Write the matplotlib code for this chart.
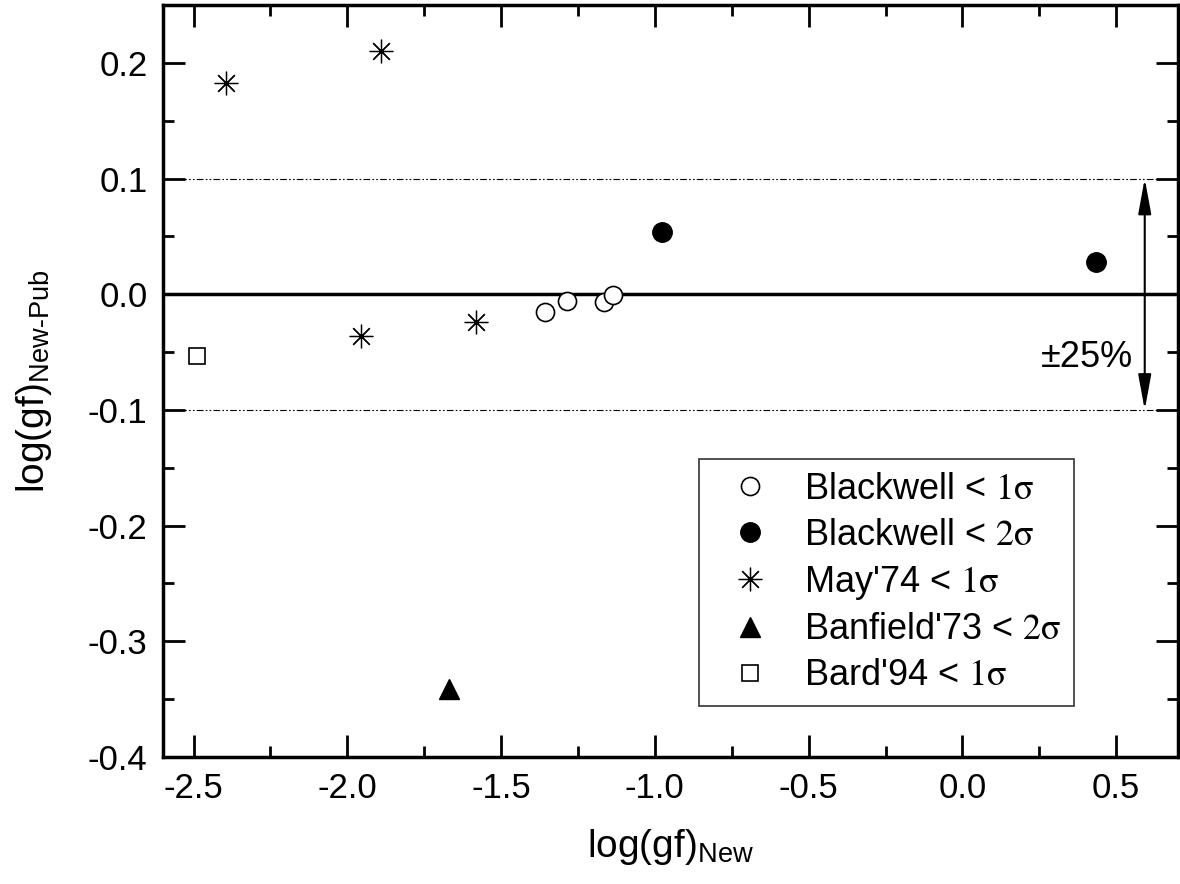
# log(gf) differences: new values vs published ones

import matplotlib
matplotlib.use("Agg")
import matplotlib.pyplot as plt
from matplotlib.ticker import MultipleLocator

plt.rcParams["font.family"] = ["Liberation Sans", "DejaVu Sans"]
plt.rcParams["mathtext.fontset"] = "stix"
plt.rcParams["axes.unicode_minus"] = False

# Blackwell < 1 sigma (open circles)
bw1_x = [-1.357, -1.285, -1.166, -1.136]
bw1_y = [-0.015, -0.006, -0.007, -0.001]
# Blackwell < 2 sigma (filled circles)
bw2_x = [-0.978, 0.434]
bw2_y = [0.054, 0.028]
# May'74 < 1 sigma (asterisks)
may_x = [-2.396, -1.891, -1.955, -1.582]
may_y = [0.183, 0.210, -0.036, -0.024]
# Banfield'73 < 2 sigma (triangle)
ban_x = [-1.671]
ban_y = [-0.341]
# Bard'94 < 1 sigma (square)
bard_x = [-2.489]
bard_y = [-0.053]

fig = plt.figure(figsize=(11.8, 8.84), dpi=100)
ax = fig.add_axes([0.138, 0.1437, 0.860, 0.8506])

ax.axhline(0.0, color="black", lw=2.5, zorder=1)
for yy in (0.1, -0.1):
    ax.axhline(yy, color="black", lw=0.8, dashes=(6, 2, 1.5, 2, 1.5, 2), zorder=1)

ax.plot(bw1_x, bw1_y, "o", ms=13, mfc="white", mec="black", mew=1.2,
        ls="none", label=r"Blackwell < $\mathrm{1\sigma}$", zorder=3)
ax.plot(bw2_x, bw2_y, "o", ms=14, mfc="black", mec="black",
        ls="none", label=r"Blackwell < $\mathrm{2\sigma}$", zorder=3)
ax.plot(may_x, may_y, marker=(8, 2, 0), ms=17, mec="black", mew=0.9,
        ls="none", label=r"May'74 < $\mathrm{1\sigma}$", zorder=3)
ax.plot(ban_x, ban_y, "^", ms=15, mfc="black", mec="black",
        ls="none", label=r"Banfield'73 < $\mathrm{2\sigma}$", zorder=3)
ax.plot(bard_x, bard_y, "s", ms=12, mfc="white", mec="black", mew=1.2,
        ls="none", label=r"Bard'94 < $\mathrm{1\sigma}$", zorder=3)

# +-25% arrow
ax.annotate("", xy=(0.593, 0.1), xytext=(0.593, -0.1),
            arrowprops=dict(arrowstyle="<|-|>,head_length=1.2,head_width=0.22",
                            color="black", lw=1.5, shrinkA=0, shrinkB=0,
                            mutation_scale=18))
ax.text(0.555, -0.055, "±25%", fontsize=26, ha="right", va="center")

ax.set_xlim(-2.6, 0.7)
ax.set_ylim(-0.4, 0.25)
ax.xaxis.set_major_locator(MultipleLocator(0.5))
ax.xaxis.set_minor_locator(MultipleLocator(0.25))
ax.yaxis.set_major_locator(MultipleLocator(0.1))
ax.yaxis.set_minor_locator(MultipleLocator(0.05))
ax.xaxis.set_major_formatter(plt.FormatStrFormatter("%.1f"))
ax.yaxis.set_major_formatter(plt.FormatStrFormatter("%.1f"))

ax.tick_params(which="both", direction="in", top=True, right=True,
               labelsize=25, width=2)
ax.tick_params(which="major", length=16, pad=11)
ax.tick_params(which="minor", length=8)
for sp in ax.spines.values():
    sp.set_linewidth(2.5)

ax.set_xlabel(r"log(gf)$_{\mathdefault{New}}$", fontsize=28, labelpad=16)
ax.set_ylabel(r"log(gf)$_{\mathdefault{New\text{-}Pub}}$", fontsize=28, labelpad=24)

leg = ax.legend(loc="lower right", bbox_to_anchor=(0.898, 0.068), fontsize=26,
                frameon=True, fancybox=False, edgecolor="black",
                handlelength=2.1, handletextpad=0.45, borderpad=0.35,
                labelspacing=0.3, borderaxespad=0)
leg.get_frame().set_linewidth(1.2)

fig.savefig("out.png", dpi=100)
